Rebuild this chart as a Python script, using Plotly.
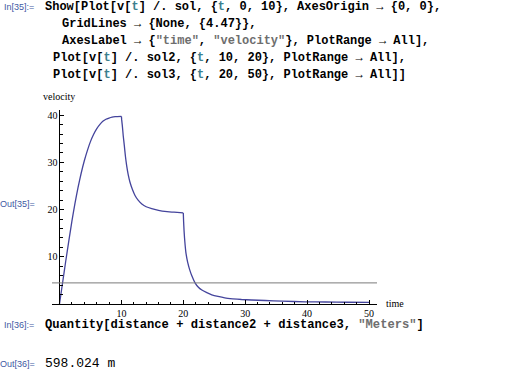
import plotly.graph_objects as go

# ---------------- data ----------------
t1 = [0, 0.5, 1, 1.5, 2, 2.5, 3, 3.5, 4, 4.5, 5, 5.5, 6, 6.5, 7, 7.5, 8, 8.5, 9, 10]
v1 = [0, 4.5, 9.0, 13.3, 17.5, 21.3, 24.7, 27.7, 30.3, 32.5, 34.4, 35.9, 37.1, 38.0, 38.7, 39.15, 39.4, 39.6, 39.7, 39.75]

t2 = [10, 10.05, 10.15, 10.3, 10.47, 10.65, 10.85, 11.1, 11.39, 11.8, 12.2, 12.7, 13.3, 14.0, 14.9, 16.0, 17.0, 18.5, 20]
v2 = [39.75, 39.0, 37.8, 35.6, 33.6, 31.3, 29.3, 27.4, 25.8, 24.2, 23.0, 22.0, 21.2, 20.6, 20.2, 19.85, 19.6, 19.45, 19.3]

t3 = [20, 20.05, 20.12, 20.2, 20.3, 20.45, 20.7, 21.0, 21.36, 21.9, 22.4, 23.0, 23.8, 24.6, 25.6, 26.7, 28.0, 29.4, 31.0, 33.2, 36.0, 39.7, 43.0, 46.5, 50]
v3 = [19.3, 17.5, 15.6, 14.0, 12.4, 10.6, 8.86, 7.4, 6.04, 4.49, 3.6, 2.95, 2.4, 1.95, 1.6, 1.3, 1.1, 0.95, 0.85, 0.74, 0.6, 0.47, 0.42, 0.37, 0.33]

grid_y = 4.47
x_ticks = [10, 20, 30, 40, 50]
x_minor = [2, 4, 6, 8, 12, 14, 16, 18, 22, 24, 26, 28, 32, 34, 36, 38, 42, 44, 46, 48]
y_ticks = [10, 20, 30, 40]
y_minor = [2, 4, 6, 8, 12, 14, 16, 18, 22, 24, 26, 28, 32, 34, 36, 38]
x_label = "time"
y_label = "velocity"
x_range = [-1.21, 51.29]
y_range = [0, 41.1]

# ---------------- layout geometry ----------------
W, H = 505, 374
L, R, T, B = 52, 128, 110, 70
PW, PH = W - L - R, H - T - B

def px(x):
    return (x - L) / PW

def py(y):
    return (H - B - y) / PH

LINE = "#44449c"
TC = "#3b7f8f"   # scoped variable colour
SC = "#6e6e6e"   # string colour
LC = "#4159a3"   # cell label colour
MONO = "Liberation Mono"
SANS = "Liberation Sans"
SERIF = "Liberation Serif"

fig = go.Figure()
for tx, vx in [(t1, v1), (t2, v2), (t3, v3)]:
    fig.add_trace(go.Scatter(x=tx, y=vx, mode="lines",
                             line=dict(color=LINE, width=1.3, shape="spline", smoothing=0.5),
                             showlegend=False, hoverinfo="skip"))

fig.add_shape(type="line", xref="paper", yref="y", x0=0, x1=1, y0=grid_y, y1=grid_y,
              line=dict(color="#7a7a7a", width=1))

ypos = (0 - x_range[0]) / (x_range[1] - x_range[0])

fig.update_layout(
    width=W, height=H,
    margin=dict(l=L, r=R, t=T, b=B, pad=0),
    paper_bgcolor="white", plot_bgcolor="white",
    xaxis=dict(range=x_range, showgrid=False, zeroline=False, showline=True,
               linecolor="black", linewidth=1, ticks="inside", ticklen=4, tickcolor="black",
               tickvals=x_ticks, tickfont=dict(family=SERIF, size=10, color="black"),
               minor=dict(tickvals=x_minor, ticks="inside", ticklen=2.5, tickcolor="black"),
               fixedrange=True),
    yaxis=dict(range=y_range, showgrid=False, zeroline=False, showline=True,
               anchor="free", position=ypos,
               linecolor="black", linewidth=1, ticks="inside", ticklen=4, tickcolor="black",
               tickvals=y_ticks, tickfont=dict(family=SERIF, size=10, color="black"),
               minor=dict(tickvals=y_minor, ticks="inside", ticklen=2.5, tickcolor="black"),
               fixedrange=True),
)

def ann(x, y, text, family, size, color="black", xanchor="left"):
    fig.add_annotation(x=px(x), y=py(y), xref="paper", yref="paper", text=text,
                       showarrow=False, xanchor=xanchor, yanchor="middle",
                       font=dict(family=family, size=size, color=color))

def tv(s):
    return f"<span style='color:{TC}'>{s}</span>"

def st(s):
    return f"<span style='color:{SC}'>\"{s}\"</span>"

code_lines = [
    (43, 7, f"<b>Show[Plot[v[{tv('t')}] /. sol, {{{tv('t')}, 0, 10}}, AxesOrigin → {{0, 0}},</b>"),
    (59.5, 24, "<b>GridLines → {None, {4.47}},</b>"),
    (59.5, 41, f"<b>AxesLabel → {{{st('time')}, {st('velocity')}}}, PlotRange → All],</b>"),
    (51, 58, f"<b>Plot[v[{tv('t')}] /. sol2, {{{tv('t')}, 10, 20}}, PlotRange → All],</b>"),
    (51, 74.5, f"<b>Plot[v[{tv('t')}] /. sol3, {{{tv('t')}, 20, 50}}, PlotRange → All]]</b>"),
]
for x, y, s in code_lines:
    ann(x, y, s, MONO, 12)

ann(36, 7, "In[35]:=", SANS, 9, LC, "right")
ann(37, 203.5, "Out[35]=", SANS, 9, LC, "right")
ann(36, 325, "In[36]:=", SANS, 9, LC, "right")
ann(37, 363.5, "Out[36]=", SANS, 9, LC, "right")

ann(43, 325, f"<b>Quantity[distance + distance2 + distance3, {st('Meters')}]</b>", MONO, 12.15)
ann(43, 363.5, "598.024 m", MONO, 13)

ann(59, 96, y_label, SERIF, 10, "black", "center")
ann(384, 303, x_label, SERIF, 10, "black", "left")

fig.write_html("out.html", config={"displayModeBar": False})
